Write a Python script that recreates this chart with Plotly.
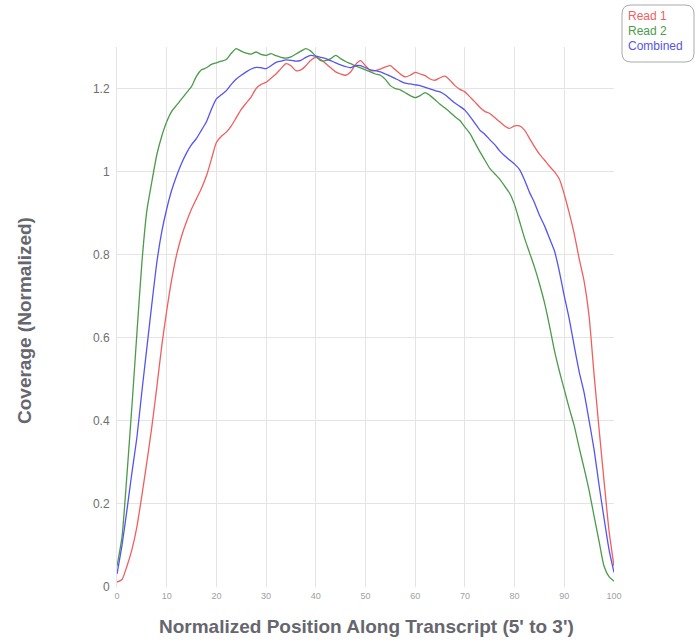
import plotly.graph_objects as go

# Normalized position along transcript (0..100)
positions = list(range(0, 101))

read1 = [
    0.012, 0.018, 0.05, 0.09, 0.145, 0.22, 0.30, 0.385, 0.48, 0.58,
    0.665, 0.74, 0.80, 0.845, 0.88, 0.91, 0.935, 0.96, 0.99, 1.03,
    1.07, 1.085, 1.095, 1.11, 1.13, 1.15, 1.165, 1.18, 1.20, 1.21,
    1.215, 1.225, 1.235, 1.248, 1.26, 1.255, 1.243, 1.245, 1.255, 1.268,
    1.275, 1.27, 1.26, 1.25, 1.24, 1.235, 1.232, 1.24, 1.258, 1.267,
    1.255, 1.243, 1.243, 1.247, 1.252, 1.255, 1.245, 1.235, 1.228, 1.232,
    1.239, 1.235, 1.231, 1.223, 1.22, 1.226, 1.23, 1.22, 1.207, 1.198,
    1.192, 1.18, 1.168, 1.155, 1.145, 1.14, 1.13, 1.12, 1.11, 1.104,
    1.11, 1.11, 1.10, 1.08, 1.06, 1.042, 1.028, 1.013, 1.0, 0.982,
    0.945, 0.90, 0.85, 0.79, 0.735, 0.65, 0.51, 0.38, 0.255, 0.135,
    0.05,
]

read2 = [
    0.05, 0.12, 0.27, 0.435, 0.61, 0.78, 0.905, 0.975, 1.04, 1.085,
    1.12, 1.145, 1.16, 1.175, 1.19, 1.205, 1.23, 1.245, 1.25, 1.258,
    1.262, 1.266, 1.27, 1.285, 1.296, 1.29, 1.285, 1.283, 1.288, 1.282,
    1.28, 1.284, 1.279, 1.275, 1.273, 1.276, 1.283, 1.29, 1.296, 1.29,
    1.278, 1.267, 1.267, 1.272, 1.28, 1.272, 1.265, 1.26, 1.254, 1.25,
    1.245, 1.24, 1.235, 1.232, 1.222, 1.207, 1.20, 1.197, 1.19, 1.183,
    1.178, 1.183, 1.19, 1.183, 1.173, 1.162, 1.153, 1.143, 1.132, 1.123,
    1.107, 1.092, 1.07, 1.048, 1.028, 1.008, 0.995, 0.982, 0.965, 0.948,
    0.92, 0.88, 0.84, 0.805, 0.77, 0.73, 0.685, 0.63, 0.57, 0.52,
    0.475, 0.43, 0.388, 0.335, 0.285, 0.232, 0.17, 0.11, 0.05, 0.025,
    0.014,
]

combined = [
    0.031, 0.10, 0.185, 0.275, 0.36, 0.47, 0.575, 0.68, 0.78, 0.855,
    0.91, 0.955, 0.99, 1.02, 1.045, 1.065, 1.08, 1.10, 1.12, 1.15,
    1.175, 1.185, 1.195, 1.21, 1.223, 1.232, 1.24, 1.247, 1.251, 1.25,
    1.248, 1.255, 1.263, 1.266, 1.269, 1.268, 1.266, 1.268, 1.275, 1.28,
    1.278, 1.275, 1.272, 1.267, 1.262, 1.257, 1.253, 1.25, 1.255, 1.255,
    1.25, 1.245, 1.243, 1.24, 1.235, 1.23, 1.224, 1.218, 1.213, 1.211,
    1.209, 1.207, 1.203, 1.199, 1.195, 1.192, 1.185, 1.175, 1.165, 1.157,
    1.148, 1.133, 1.117, 1.10, 1.09, 1.077, 1.065, 1.05, 1.038, 1.028,
    1.018, 1.005, 0.98, 0.95, 0.925, 0.895, 0.87, 0.84, 0.81, 0.76,
    0.70, 0.645, 0.58, 0.518, 0.467, 0.40, 0.33, 0.245, 0.165, 0.09,
    0.035,
]

series_names = ["Read 1", "Read 2", "Combined"]
series_colors = ["rgb(240,95,95)", "rgb(75,155,75)", "rgb(85,85,238)"]
x_ticks = [0, 10, 20, 30, 40, 50, 60, 70, 80, 90, 100]
y_ticks = [0, 0.2, 0.4, 0.6, 0.8, 1, 1.2]

fig = go.Figure()
for name, vals, color in zip(series_names, [read1, read2, combined], series_colors):
    fig.add_trace(go.Scatter(
        x=positions, y=vals, mode="lines", name=name,
        line=dict(color=color, width=1.3, shape="spline", smoothing=0.6),
    ))

W, H = 696, 643
ml, mr, mt, mb = 117, 82, 47, 56
pw, ph = W - ml - mr, H - mt - mb


def px_to_paper(px, py):
    return (px - ml) / pw, (H - mb - py) / ph


# rounded legend box
bx0, by0, bx1, by1, r = 622, 5, 694, 62, 9
x0, y0 = px_to_paper(bx0, by0)
x1, y1 = px_to_paper(bx1, by1)
rx, ry = r / pw, r / ph
path = (
    f"M {x0 + rx},{y0} L {x1 - rx},{y0} Q {x1},{y0} {x1},{y0 - ry} "
    f"L {x1},{y1 + ry} Q {x1},{y1} {x1 - rx},{y1} "
    f"L {x0 + rx},{y1} Q {x0},{y1} {x0},{y1 + ry} "
    f"L {x0},{y0 - ry} Q {x0},{y0} {x0 + rx},{y0} Z"
)
fig.add_shape(type="path", path=path, xref="paper", yref="paper",
              line=dict(color="rgb(170,170,170)", width=1), fillcolor="white")

for i, (name, color) in enumerate(zip(series_names, series_colors)):
    lx, ly = px_to_paper(626, 16 + 15 * i)
    fig.add_annotation(x=lx, y=ly, xref="paper", yref="paper", text=name,
                       showarrow=False, xanchor="left", yanchor="middle",
                       font=dict(family="Liberation Sans, Arial", size=12, color=color))

# axis titles
title_font = dict(family="Liberation Sans, Arial", size=19, color="rgb(102,102,110)")
tx, ty = px_to_paper(366, 626)
fig.add_annotation(x=tx, y=ty, xref="paper", yref="paper",
                   text="<b>Normalized Position Along Transcript (5' to 3')</b>",
                   showarrow=False, xanchor="center", yanchor="middle",
                   font=title_font)
tx, ty = px_to_paper(24, 321)
fig.add_annotation(x=tx, y=ty, xref="paper", yref="paper",
                   text="<b>Coverage (Normalized)</b>", textangle=-90,
                   showarrow=False, xanchor="center", yanchor="middle",
                   font=title_font)

fig.update_layout(
    width=W, height=H,
    margin=dict(l=ml, r=mr, t=mt, b=mb, pad=0),
    paper_bgcolor="white", plot_bgcolor="white",
    showlegend=False,
    font=dict(family="Liberation Sans, Arial"),
    xaxis=dict(range=[0, 100], tickvals=x_ticks, showgrid=True,
               gridcolor="rgb(228,228,228)", gridwidth=1, zeroline=False,
               showline=False, ticks="", ticklabelstandoff=2,
               tickfont=dict(size=9, color="rgb(160,160,160)")),
    yaxis=dict(range=[0, 1.3], tickvals=y_ticks, showgrid=True,
               gridcolor="rgb(228,228,228)", gridwidth=1, zeroline=False,
               showline=True, linecolor="rgb(228,228,228)", ticks="",
               ticklabelstandoff=4,
               tickfont=dict(size=12, color="rgb(110,110,110)")),
)

fig.write_html("out.html")
